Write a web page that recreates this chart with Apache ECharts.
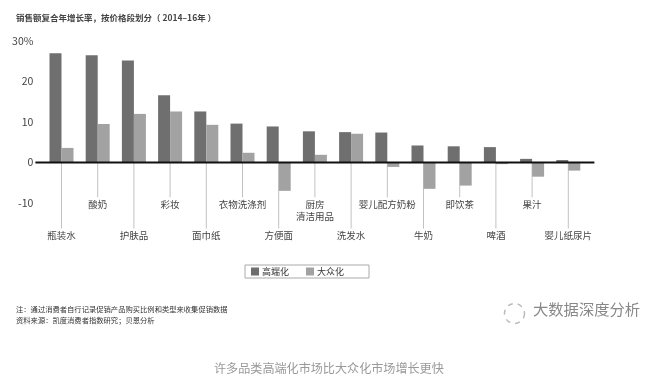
<!DOCTYPE html>
<html>
<head>
<meta charset="utf-8">
<style>
  html, body { margin: 0; padding: 0; background: #fff; }
  #chart { width: 658px; height: 389px; filter: blur(0.45px); }
</style>
<script src="https://cdn.jsdelivr.net/npm/echarts@6/dist/echarts.min.js"></script>
</head>
<body>
<div id="chart"></div>
<script>
const categories = ['瓶装水', '酸奶', '护肤品', '彩妆', '面巾纸', '衣物洗涤剂', '方便面', '厨房\n清洁用品', '洗发水', '婴儿配方奶粉', '牛奶', '即饮茶', '啤酒', '果汁', '婴儿纸尿片'];
const premium = [27, 26.5, 25.2, 16.6, 12.6, 9.6, 8.9, 7.7, 7.5, 7.4, 4.2, 4, 3.8, 0.9, 0.6];
const mass = [3.6, 9.5, 12, 12.6, 9.3, 2.4, -7, 1.9, 7.1, -1.1, -6.5, -5.7, -0.4, -3.5, -2];
const yTicks = { min: -10, max: 30, interval: 10 };

const font = '"Noto Sans CJK SC", "Noto Sans", sans-serif';
const textColor = '#444';

const chart = echarts.init(document.getElementById('chart'));

// 类目标签交替排在上下两层，引线从零轴往下拉
const renderLeader = (params, api) => {
  const i = api.value(0);
  const lower = i % 2 === 0;
  const x = api.coord([i, 0])[0];
  const y0 = api.coord([i, 0])[1];
  const lineEnd = api.coord([i, lower ? -16.3 : -8.6])[1];
  return {
    type: 'group',
    children: [
      {
        type: 'line',
        shape: { x1: x, y1: y0, x2: x, y2: lineEnd },
        style: { stroke: '#c2c2c2', lineWidth: 1 }
      },
      {
        type: 'text',
        style: {
          x,
          y: lineEnd + 1,
          text: categories[i],
          align: 'center',
          verticalAlign: 'top',
          fill: textColor,
          font: `9.5px ${font}`,
          lineHeight: 12
        }
      }
    ]
  };
};

// 零轴比绘图区两端略长
const renderBaseline = (params, api) => {
  const y = api.coord([0, 0])[1];
  return {
    type: 'line',
    shape: { x1: params.coordSys.x - 8, y1: y, x2: params.coordSys.x + params.coordSys.width + 8, y2: y },
    style: { stroke: '#111', lineWidth: 2 }
  };
};

const option = {
  animation: false,
  backgroundColor: '#fff',
  color: ['#6f6f6f', '#a2a2a2'],
  textStyle: { fontFamily: font },
  grid: { left: 43.4, top: 41, width: 543, height: 162 },
  legend: {
    left: 245,
    top: 265,
    padding: [2, 25, 2, 6],
    itemWidth: 8,
    itemHeight: 8,
    itemGap: 17,
    borderColor: '#aaa',
    borderWidth: 1,
    borderRadius: 0,
    data: [
      { name: '高端化', icon: 'rect' },
      { name: '大众化', icon: 'rect' }
    ],
    textStyle: { fontSize: 9, color: '#333', padding: [0, 0, 0, -2] }
  },
  xAxis: {
    type: 'category',
    data: categories,
    axisLine: { show: false },
    axisTick: { show: false },
    axisLabel: { show: false }
  },
  yAxis: {
    type: 'value',
    min: yTicks.min,
    max: yTicks.max,
    interval: yTicks.interval,
    axisLine: { show: false },
    axisTick: { show: false },
    splitLine: { show: false },
    axisLabel: {
      margin: 10,
      fontSize: 10.5,
      color: textColor,
      formatter: (v) => (v === 30 ? '30%' : String(v))
    }
  },
  series: [
    {
      type: 'custom',
      name: 'leader',
      data: categories.map((c, i) => [i]),
      renderItem: renderLeader,
      clip: false,
      silent: true,
      z: 1
    },
    {
      name: '高端化',
      type: 'bar',
      data: premium,
      barWidth: 12,
      barGap: 0,
      itemStyle: { color: '#6f6f6f' },
      z: 2
    },
    {
      name: '大众化',
      type: 'bar',
      data: mass,
      barWidth: 12,
      itemStyle: { color: '#a2a2a2' },
      z: 2
    },
    {
      type: 'custom',
      name: 'baseline',
      data: [[0]],
      renderItem: renderBaseline,
      clip: false,
      silent: true,
      z: 3
    }
  ],
  graphic: [
    {
      type: 'text', left: 16, top: 14,
      style: { text: '销售额复合年增长率，按价格段划分（ 2014–16年 ）', fill: '#444', font: `bold 8.5px ${font}` }
    },
    {
      type: 'text', left: 16, top: 306,
      style: { text: '注：通过消费者自行记录促销产品购买比例和类型来收集促销数据', fill: '#333', font: `7.3px ${font}` }
    },
    {
      type: 'text', left: 16, top: 317,
      style: { text: '资料来源：凯度消费者指数研究；贝恩分析', fill: '#333', font: `7.3px ${font}` }
    },
    {
      type: 'circle', left: 502, top: 301,
      shape: { r: 10 },
      style: { fill: 'none', stroke: '#bbb', lineWidth: 1.5, lineDash: [5, 5] }
    },
    {
      type: 'text', left: 533, top: 302,
      style: { text: '大数据深度分析', fill: '#888', font: `15.3px ${font}` }
    },
    {
      type: 'text', left: 214, top: 362,
      style: { text: '许多品类高端化市场比大众化市场增长更快', fill: '#999', font: `12.1px ${font}` }
    }
  ]
};

chart.setOption(option);
</script>
</body>
</html>
